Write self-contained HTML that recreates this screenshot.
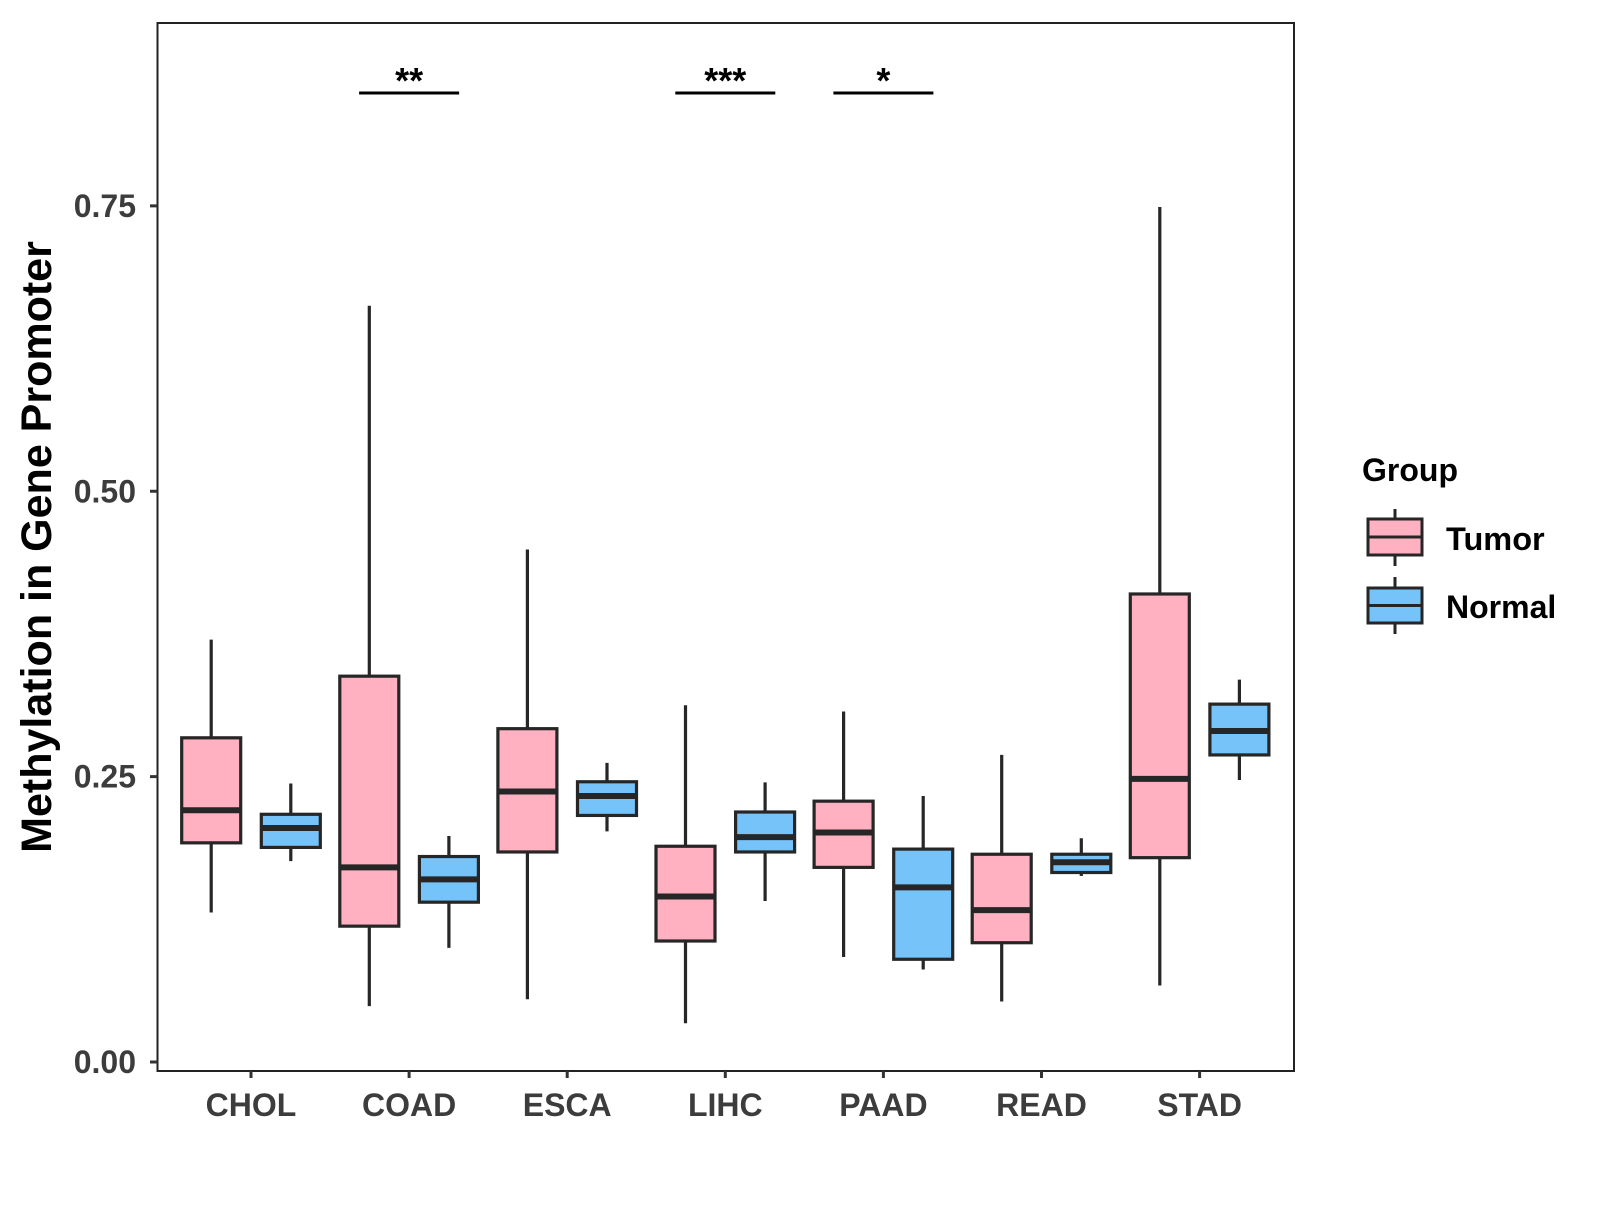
<!DOCTYPE html>
<html><head><meta charset="utf-8"><style>
html,body{margin:0;padding:0;background:#fff}
svg text{font-family:"Liberation Sans",sans-serif;font-weight:bold}
</style></head><body>
<svg id="chart" width="1600" height="1200" xmlns="http://www.w3.org/2000/svg">
<rect x="157.5" y="23" width="1136.5" height="1048" fill="#fff" stroke="#222" stroke-width="2"/>
<g id="boxes"></g>
<g id="axes"></g>
<text x="51" y="547" font-size="43" fill="#000" text-anchor="middle" transform="rotate(-90 51 547)">Methylation in Gene Promoter</text>
<g>
<text x="1362" y="481" font-size="32" fill="#000">Group</text>
<g>
<line x1="1395" y1="509" x2="1395" y2="566" stroke="#262626" stroke-width="3"/>
<rect x="1368" y="519" width="54" height="36" fill="#FFB1C1" stroke="#262626" stroke-width="3"/>
<line x1="1368" y1="537" x2="1422" y2="537" stroke="#262626" stroke-width="3"/>
<text x="1446" y="550" font-size="32.5" fill="#000">Tumor</text>
</g>
<g>
<line x1="1395" y1="577" x2="1395" y2="634" stroke="#262626" stroke-width="3"/>
<rect x="1368" y="588" width="54" height="35" fill="#76C3FA" stroke="#262626" stroke-width="3"/>
<line x1="1368" y1="605.5" x2="1422" y2="605.5" stroke="#262626" stroke-width="3"/>
<text x="1446" y="618" font-size="32" fill="#000">Normal</text>
</g>
</g>
</svg>
<script>
const categories=["CHOL","COAD","ESCA","LIHC","PAAD","READ","STAD"];
// [low, q1, median, q3, high]
const tumorStats=[[0.131,0.192,0.2205,0.284,0.370],[0.049,0.119,0.1705,0.338,0.6625],[0.055,0.184,0.237,0.292,0.449],[0.034,0.106,0.145,0.189,0.3125],[0.092,0.1705,0.201,0.2285,0.307],[0.053,0.1045,0.133,0.182,0.269],[0.067,0.179,0.248,0.410,0.749]];
const normalStats=[[0.176,0.188,0.205,0.217,0.244],[0.100,0.140,0.160,0.180,0.198],[0.202,0.216,0.233,0.2455,0.262],[0.141,0.184,0.197,0.219,0.245],[0.081,0.090,0.153,0.1865,0.233],[0.163,0.166,0.175,0.182,0.196],[0.247,0.269,0.290,0.3135,0.335]];
const yTicks=[0,0.25,0.5,0.75];
const yTickLabels=["0.00","0.25","0.50","0.75"];
const sigCategories=["COAD","LIHC","PAAD"];
const sigLabels=["**","***","*"];
const NS="http://www.w3.org/2000/svg";
function y(v){return 1062-1141.5*v;}
function x(i){return 251+158.1*i;}
function mk(tag,attrs,parent){const e=document.createElementNS(NS,tag);for(const k in attrs)e.setAttribute(k,attrs[k]);parent.appendChild(e);return e;}
const boxes=document.getElementById('boxes'),axes=document.getElementById('axes');
const stroke="#262626";
function drawBox(s,cx,fill,name){
  const g=mk('g',{},boxes);
  
  
  const w=59;
  mk('line',{x1:cx,x2:cx,y1:y(s[4]),y2:y(s[0]),stroke:stroke,'stroke-width':3.2},g);
  mk('rect',{x:cx-w/2,y:y(s[3]),width:w,height:y(s[1])-y(s[3]),fill:fill,stroke:stroke,'stroke-width':3.2},g);
  mk('line',{x1:cx-w/2,x2:cx+w/2,y1:y(s[2]),y2:y(s[2]),stroke:stroke,'stroke-width':6},g);
}
categories.forEach((c,i)=>{
  drawBox(tumorStats[i],x(i)-39.8,"#FFB1C1","box-tumor-"+c.toLowerCase());
  drawBox(normalStats[i],x(i)+39.8,"#76C3FA","box-normal-"+c.toLowerCase());
  const t=mk('line',{x1:x(i),x2:x(i),y1:1071,y2:1078,stroke:"#333",'stroke-width':3},axes);
  
  
  const l=mk('text',{x:x(i),y:1116,'font-size':32,fill:"#3c3c3c",'text-anchor':'middle'},axes);
  l.textContent=c;
  
  
});
yTicks.forEach((v,i)=>{
  const t=mk('line',{x1:150,x2:157.5,y1:y(v),y2:y(v),stroke:"#333",'stroke-width':3},axes);
  
  
  const l=mk('text',{x:136,y:y(v)+11,'font-size':32,fill:"#3c3c3c",'text-anchor':'end'},axes);
  l.textContent=yTickLabels[i];
  
  
});
sigCategories.forEach((c,k)=>{
  const i=categories.indexOf(c);
  const ln=mk('line',{x1:x(i)-50,x2:x(i)+50,y1:93,y2:93,stroke:"#000",'stroke-width':3},axes);
  
  
  const t=mk('text',{x:x(i),y:93,'font-size':36,fill:"#000",'text-anchor':'middle'},axes);
  t.textContent=sigLabels[k];
  
  
});
</script>
</body></html>
